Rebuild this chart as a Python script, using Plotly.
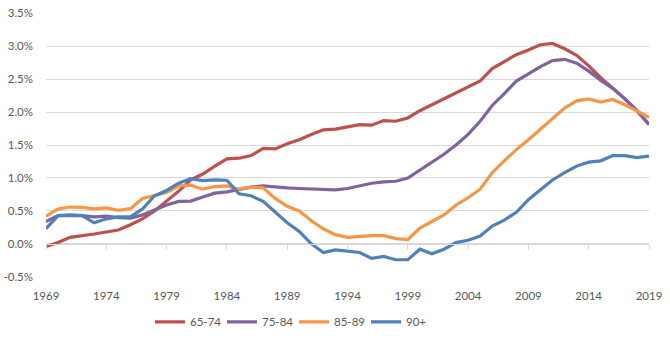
import plotly.graph_objects as go

years = list(range(1969, 2020))

s65_74 = [-0.04, 0.02, 0.10, 0.12, 0.15, 0.18, 0.21, 0.29, 0.38, 0.50,
          0.65, 0.80, 0.97, 1.06, 1.18, 1.29, 1.30, 1.34, 1.45, 1.44,
          1.52, 1.58, 1.66, 1.73, 1.74, 1.77, 1.81, 1.80, 1.87, 1.86,
          1.91, 2.02, 2.11, 2.19, 2.29, 2.37, 2.47, 2.66, 2.76, 2.87,
          2.94, 3.02, 3.04, 2.96, 2.86, 2.70, 2.52, 2.36, 2.20, 2.02, 1.81]

s75_84 = [0.34, 0.43, 0.43, 0.43, 0.41, 0.42, 0.40, 0.39, 0.44, 0.52,
          0.59, 0.645, 0.65, 0.71, 0.77, 0.79, 0.83, 0.86, 0.88, 0.86,
          0.85, 0.84, 0.83, 0.83, 0.82, 0.84, 0.88, 0.92, 0.94, 0.95,
          1.00, 1.12, 1.25, 1.36, 1.50, 1.66, 1.86, 2.10, 2.28, 2.47,
          2.58, 2.69, 2.78, 2.80, 2.74, 2.62, 2.48, 2.36, 2.20, 2.02, 1.81]

s85_89 = [0.42, 0.53, 0.56, 0.555, 0.53, 0.545, 0.51, 0.535, 0.69, 0.73,
          0.78, 0.88, 0.89, 0.83, 0.87, 0.88, 0.83, 0.86, 0.85, 0.69,
          0.57, 0.50, 0.35, 0.23, 0.14, 0.10, 0.115, 0.125, 0.125, 0.08,
          0.065, 0.24, 0.34, 0.44, 0.59, 0.70, 0.83, 1.08, 1.26, 1.43,
          1.58, 1.74, 1.89, 2.06, 2.17, 2.20, 2.15, 2.19, 2.11, 2.01, 1.92]

s90p = [0.23, 0.43, 0.44, 0.43, 0.32, 0.38, 0.41, 0.41, 0.53, 0.73,
        0.81, 0.92, 0.99, 0.96, 0.97, 0.965, 0.76, 0.73, 0.645, 0.49,
        0.32, 0.19, 0.00, -0.13, -0.09, -0.11, -0.13, -0.22, -0.19, -0.24,
        -0.24, -0.08, -0.15, -0.08, 0.02, 0.055, 0.12, 0.27, 0.36, 0.48,
        0.67, 0.82, 0.97, 1.08, 1.18, 1.24, 1.26, 1.34, 1.34, 1.31, 1.33]

series_names = ["65-74", "75-84", "85-89", "90+"]
series_values = [s65_74, s75_84, s85_89, s90p]
colors = ["#C0504D", "#8064A2", "#F79646", "#4F81BD"]
legend_widths = [27, 27, 27, 26]

x_tickvals = list(range(1969, 2020, 5))
y_tickvals = [-0.5, 0.0, 0.5, 1.0, 1.5, 2.0, 2.5, 3.0, 3.5]
y_ticktext = [f"{v:.1f}%" for v in y_tickvals]

y_range = [-0.502, 3.502]
zero_pos = (0 - y_range[0]) / (y_range[1] - y_range[0])

fig = go.Figure()
for name, vals, c, lw in zip(series_names, series_values, colors, legend_widths):
    fig.add_trace(go.Scatter(x=years, y=vals, name=name, mode="lines",
                             line=dict(color=c, width=3.2), legendwidth=lw))

font = dict(family="Lato, 'Open Sans', sans-serif", size=11.5, color="#595959")

fig.update_layout(
    width=670, height=340,
    margin=dict(l=46, r=21, t=13, b=63, autoexpand=False),
    paper_bgcolor="white", plot_bgcolor="white",
    font=font,
    showlegend=True,
    legend=dict(orientation="h", x=0.1725, xanchor="left", y=-0.115, yanchor="top",
                font=font, itemwidth=30, traceorder="normal",
                bgcolor="rgba(0,0,0,0)"),
    xaxis=dict(range=[1969, 2019], tickvals=x_tickvals, showgrid=False,
               zeroline=False, anchor="free", position=zero_pos,
               showline=True, linecolor="#d9d9d9", linewidth=1,
               ticks="outside", ticklen=5, tickcolor="#d9d9d9", tickwidth=1,
               ticklabelstandoff=36, tickfont=font),
    yaxis=dict(range=y_range, tickvals=y_tickvals, ticktext=y_ticktext,
               showgrid=True, gridcolor="#d9d9d9", gridwidth=1,
               zeroline=False, showline=False, ticks="",
               ticklabelstandoff=12, tickfont=font),
)

fig.write_html("out.html")
